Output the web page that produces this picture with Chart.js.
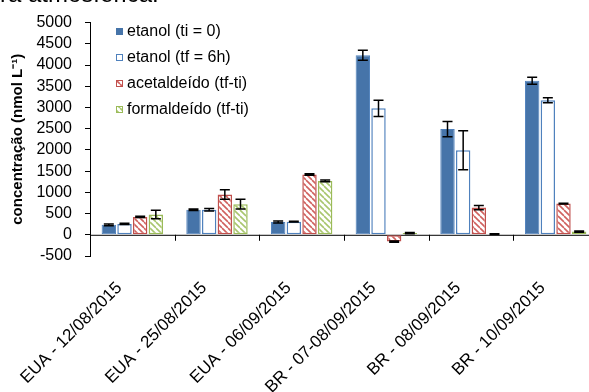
<!DOCTYPE html>
<html lang="pt">
<head>
    <meta charset="UTF-8">
    <title>Concentração</title>
    <script src="https://cdn.jsdelivr.net/npm/chart.js"></script>
    <style>
        body {
            margin: 0;
            padding: 0;
            background: #fff;
            overflow: hidden;
            font-family: 'Liberation Sans', sans-serif;
        }

        .wrap {
            position: relative;
            width: 600px;
            height: 392px;
        }

        .cut-title {
            position: absolute;
            left: 0;
            top: -18px;
            font-size: 24px;
            line-height: 1;
            color: #000;
            white-space: nowrap;
            z-index: 2;
        }
    </style>
</head>
<body>
<div class="wrap">
    <canvas id="chart" width="600" height="392"></canvas>
    <div class="cut-title">ra atmosférica.</div>
</div>

<script>
    const categories = ['EUA - 12/08/2015', 'EUA - 25/08/2015', 'EUA - 06/09/2015',
        'BR - 07-08/09/2015', 'BR - 08/09/2015', 'BR - 10/09/2015'];

    const seriesNames = ['etanol (ti = 0)', 'etanol (tf = 6h)', 'acetaldeído (tf-ti)', 'formaldeído (tf-ti)'];

    const etanolTi = [235, 590, 300, 4230, 2490, 3630];
    const etanolTf = [255, 590, 310, 2980, 1990, 3170];
    const acetaldeido = [420, 950, 1420, -160, 640, 735];
    const formaldeido = [480, 720, 1270, 40, 15, 75];

    const erroTi = [20, 15, 25, 120, 180, 85];
    const erroTf = [15, 30, 10, 190, 460, 60];
    const erroAcet = [15, 110, 20, 15, 50, 10];
    const erroForm = [100, 115, 20, 15, 10, 15];

    const yTicks = [-500, 0, 500, 1000, 1500, 2000, 2500, 3000, 3500, 4000, 4500, 5000];

    const FONT = "'Liberation Sans', sans-serif";

    // hachura diagonal
    function hatch(lineColor) {
        const s = 6;
        const c = document.createElement('canvas');
        c.width = s;
        c.height = s;
        const g = c.getContext('2d');
        g.fillStyle = '#fff';
        g.fillRect(0, 0, s, s);
        g.strokeStyle = lineColor;
        g.lineWidth = 1.6;
        for (const k of [-s, 0, s]) {
            g.beginPath();
            g.moveTo(k, 0);
            g.lineTo(k + s, s);
            g.stroke();
        }
        return g.createPattern(c, 'repeat');
    }

    const redHatch = hatch('#D0615E');
    const greenHatch = hatch('#A9C66E');

    const fills = ['#4674A9', '#ffffff', redHatch, greenHatch];
    const borders = ['#4F81BD', '#4F81BD', '#C0504D', '#9BBB59'];
    const errors = [erroTi, erroTf, erroAcet, erroForm];

    // barras de erro
    const errorBars = {
        id: 'errorBars',
        afterDatasetsDraw(chart) {
            const ctx = chart.ctx;
            const y = chart.scales.y;
            ctx.save();
            ctx.strokeStyle = '#000';
            ctx.lineWidth = 1.5;
            chart.data.datasets.forEach((ds, i) => {
                const meta = chart.getDatasetMeta(i);
                meta.data.forEach((bar, j) => {
                    const v = ds.data[j];
                    const e = errors[i][j];
                    const y1 = y.getPixelForValue(v + e);
                    const y2 = y.getPixelForValue(v - e);
                    const x = bar.x;
                    ctx.beginPath();
                    ctx.moveTo(x, y1);
                    ctx.lineTo(x, y2);
                    ctx.moveTo(x - 5, y1);
                    ctx.lineTo(x + 5, y1);
                    ctx.moveTo(x - 5, y2);
                    ctx.lineTo(x + 5, y2);
                    ctx.stroke();
                });
            });
            ctx.restore();
        }
    };

    // linha do zero + marcas das categorias
    const zeroAxis = {
        id: 'zeroAxis',
        beforeDatasetsDraw(chart) {
            const ctx = chart.ctx;
            const area = chart.chartArea;
            const y0 = chart.scales.y.getPixelForValue(0);
            const n = categories.length;
            const step = (area.right - area.left) / n;
            ctx.save();
            ctx.strokeStyle = '#000';
            ctx.lineWidth = 1;
            ctx.beginPath();
            ctx.moveTo(area.left, y0 + 0.5);
            ctx.lineTo(area.right, y0 + 0.5);
            for (let k = 0; k <= n; k++) {
                const x = Math.round(area.left + k * step) + 0.5;
                ctx.moveTo(x, y0);
                ctx.lineTo(x, y0 + 6);
            }
            ctx.stroke();
            ctx.restore();
        }
    };

    // legenda dentro da área do gráfico
    const insideLegend = {
        id: 'insideLegend',
        afterDraw(chart) {
            const ctx = chart.ctx;
            const x = chart.chartArea.left + 26;
            const rows = [32, 58, 84, 110];
            ctx.save();
            ctx.font = '16px ' + FONT;
            ctx.textBaseline = 'middle';
            seriesNames.forEach((name, i) => {
                const yy = rows[i];
                ctx.fillStyle = fills[i];
                ctx.fillRect(x, yy - 4, 7, 7);
                if (i > 0) {
                    ctx.strokeStyle = borders[i];
                    ctx.lineWidth = 1;
                    ctx.strokeRect(x + 0.5, yy - 3.5, 6, 6);
                }
                ctx.fillStyle = '#000';
                ctx.fillText(name, x + 11, yy);
            });
            ctx.restore();
        }
    };

    const seriesData = [etanolTi, etanolTf, acetaldeido, formaldeido];

    new Chart(document.getElementById('chart').getContext('2d'), {
        type: 'bar',
        data: {
            labels: categories,
            datasets: seriesData.map((d, i) => ({
                label: seriesNames[i],
                data: d,
                backgroundColor: fills[i],
                borderColor: borders[i],
                borderWidth: i === 0 ? 1 : 1.5,
                borderSkipped: false,
                categoryPercentage: 0.74,
                barPercentage: 0.92
            }))
        },
        options: {
            responsive: false,
            animation: false,
            devicePixelRatio: 1,
            layout: {
                padding: {top: 20, right: 2, bottom: 0, left: 0}
            },
            plugins: {
                legend: {display: false},
                tooltip: {enabled: false}
            },
            scales: {
                x: {
                    grid: {display: false, drawTicks: false},
                    border: {display: false},
                    ticks: {
                        autoSkip: false,
                        minRotation: 45,
                        maxRotation: 45,
                        color: '#000',
                        padding: 22,
                        labelOffset: -13,
                        font: {family: FONT, size: 17}
                    },
                    afterFit(scale) {
                        scale.height = 136;
                    }
                },
                y: {
                    min: -500,
                    max: 5000,
                    afterBuildTicks(scale) {
                        scale.ticks = yTicks.map(v => ({value: v}));
                    },
                    grid: {
                        drawOnChartArea: false,
                        tickLength: 5,
                        tickColor: '#000',
                        color: '#000'
                    },
                    border: {display: true, color: '#000', width: 1},
                    ticks: {
                        autoSkip: false,
                        color: '#000',
                        padding: 13,
                        font: {family: FONT, size: 16},
                        callback: v => String(v)
                    },
                    title: {
                        display: true,
                        text: 'concentração (nmol L⁻¹)',
                        color: '#000',
                        padding: {top: 9, bottom: 0},
                        font: {family: FONT, size: 15, weight: 'bold'}
                    },
                    afterFit(scale) {
                        scale.width = 90;
                    }
                }
            }
        },
        plugins: [zeroAxis, errorBars, insideLegend]
    });
</script>
</body>
</html>
